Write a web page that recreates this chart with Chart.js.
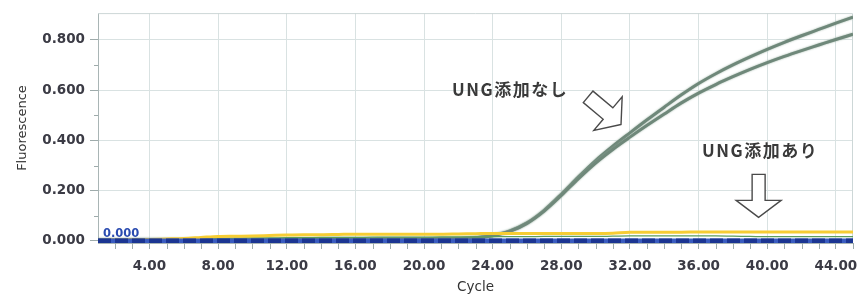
<!DOCTYPE html>
<html><head><meta charset="utf-8">
<script src="https://cdn.jsdelivr.net/npm/chart.js@4/dist/chart.umd.min.js"></script>
<style>html,body{margin:0;padding:0;background:#fff;}#wrap{width:868px;height:296px;}</style>
</head><body><div id="wrap"><canvas id="c" width="868" height="296"></canvas></div>
<script>
// ---- data ----
const cycles = [1,2,3,4,5,6,7,8,9,10,11,12,13,14,15,16,17,18,19,20,21,22,23,24,25,26,27,28,29,30,31,32,33,34,35,36,37,38,39,40,41,42,43,44,45];
const noUng1 = [0.004,0.004,0.004,0.005,0.005,0.005,0.005,0.006,0.006,0.006,0.006,0.006,0.007,0.007,0.007,0.007,0.007,0.008,0.008,0.008,0.009,0.010,0.013,0.022,0.040,0.072,0.122,0.186,0.255,0.320,0.377,0.430,0.482,0.532,0.581,0.626,0.665,0.700,0.732,0.762,0.790,0.816,0.841,0.866,0.890];
const noUng2 = [0.004,0.004,0.004,0.005,0.005,0.005,0.005,0.006,0.006,0.006,0.006,0.006,0.007,0.007,0.007,0.007,0.007,0.008,0.008,0.008,0.009,0.010,0.013,0.021,0.038,0.070,0.119,0.181,0.248,0.310,0.364,0.413,0.460,0.505,0.549,0.588,0.622,0.653,0.682,0.709,0.734,0.757,0.779,0.801,0.822];
const withUng = [0.003,0.004,0.005,0.006,0.008,0.010,0.014,0.018,0.019,0.020,0.022,0.024,0.025,0.025,0.026,0.027,0.027,0.027,0.027,0.027,0.027,0.028,0.029,0.030,0.030,0.030,0.030,0.030,0.030,0.030,0.031,0.035,0.035,0.035,0.035,0.036,0.036,0.036,0.036,0.036,0.036,0.036,0.036,0.036,0.036];
const withUngB = [0.004,0.004,0.005,0.006,0.007,0.008,0.009,0.010,0.011,0.012,0.012,0.013,0.013,0.014,0.014,0.014,0.015,0.015,0.015,0.015,0.016,0.016,0.016,0.017,0.017,0.017,0.018,0.018,0.018,0.018,0.019,0.020,0.020,0.020,0.020,0.020,0.020,0.019,0.018,0.017,0.017,0.017,0.017,0.017,0.017];
const baseline = [0,0,0,0,0,0,0,0,0,0,0,0,0,0,0,0,0,0,0,0,0,0,0,0,0,0,0,0,0,0,0,0,0,0,0,0,0,0,0,0,0,0,0,0,0];
const threshold = [0,0,0,0,0,0,0,0,0,0,0,0,0,0,0,0,0,0,0,0,0,0,0,0,0,0,0,0,0,0,0,0,0,0,0,0,0,0,0,0,0,0,0,0,0];
const xTickValues = [4,8,12,16,20,24,28,32,36,40,44];
const xTickLabels = ['4.00','8.00','12.00','16.00','20.00','24.00','28.00','32.00','36.00','40.00','44.00'];
const yTickValues = [0,0.2,0.4,0.6,0.8];
const yTickLabels = ['0.000','0.200','0.400','0.600','0.800'];
const xMinorTicks = [2,3,5,6,7,9,10,11,13,14,15,17,18,19,21,22,23,25,26,27,29,30,31,33,34,35,37,38,39,41,42,43,45];
const yMinorTicks = [0.1,0.3,0.5,0.7];
const thresholdLabel = '0.000';
const noteNoUng = 'UNG添加なし';
const noteWithUng = 'UNG添加あり';

const pts = arr => arr.map((v,i)=>({x:cycles[i], y:v}));
const gridColor = '#d9e2e2';
const tickFont = {family:'DejaVu Sans', size:13.5, weight:'bold'};

function arrow(ctx, tx, ty, angle, L, h, s, S){
  ctx.save();
  ctx.translate(tx, ty);
  ctx.rotate(angle);
  ctx.beginPath();
  ctx.moveTo(0,0);
  ctx.lineTo(-L, h);
  ctx.lineTo(-L, s);
  ctx.lineTo(-L-S, s);
  ctx.lineTo(-L-S, -s);
  ctx.lineTo(-L, -s);
  ctx.lineTo(-L, -h);
  ctx.closePath();
  ctx.fillStyle = '#ffffff';
  ctx.fill();
  ctx.lineWidth = 1.4;
  ctx.strokeStyle = '#4a4a4a';
  ctx.lineJoin = 'miter';
  ctx.stroke();
  ctx.restore();
}

const decor = {
  id:'decor',
  beforeDatasetsDraw(chart){
    const {ctx, chartArea:a} = chart;
    ctx.save();
    ctx.strokeStyle = '#cdd7d7';
    ctx.lineWidth = 1;
    ctx.beginPath();
    ctx.moveTo(a.left, a.top+0.5); ctx.lineTo(a.right-0.5, a.top+0.5); ctx.lineTo(a.right-0.5, a.bottom);
    ctx.stroke();
    const xs = chart.scales.x, ys = chart.scales.y;
    ctx.strokeStyle = '#9eabab';
    ctx.beginPath();
    xMinorTicks.forEach(v=>{ const px = Math.round(xs.getPixelForValue(v))+0.5; ctx.moveTo(px, a.bottom); ctx.lineTo(px, a.bottom+6); });
    yMinorTicks.forEach(v=>{ const py = Math.round(ys.getPixelForValue(v))+0.5; ctx.moveTo(a.left-4, py); ctx.lineTo(a.left, py); });
    ctx.stroke();
    ctx.restore();
  },
  beforeDatasetDraw(chart, args){
    if (args.meta.dataset && args.index >= 4) {
      const ctx = chart.ctx;
      ctx.save();
      ctx.shadowColor = 'rgba(140,165,150,0.9)';
      ctx.shadowBlur = 2;
    }
  },
  afterDatasetDraw(chart, args){
    if (args.meta.dataset && args.index >= 4) chart.ctx.restore();
  },
  afterDatasetsDraw(chart){
    const {ctx} = chart;
    const xs = chart.scales.x, ys = chart.scales.y;
    ctx.save();
    ctx.fillStyle = '#2a4bb0';
    ctx.font = 'bold 11.5px "DejaVu Sans"';
    ctx.textBaseline = 'alphabetic';
    ctx.textAlign = 'left';
    ctx.fillText(thresholdLabel, xs.getPixelForValue(1)+5, ys.getPixelForValue(0)-4);
    ctx.fillStyle = '#3a3a3a';
    ctx.font = 'bold 17px "Noto Sans CJK JP"';
    ctx.letterSpacing = '1.5px';
    ctx.textBaseline = 'middle';
    ctx.fillText(noteNoUng, xs.getPixelForValue(21.63), ys.getPixelForValue(0.601));
    ctx.fillText(noteWithUng, xs.getPixelForValue(36.2), ys.getPixelForValue(0.358));
    ctx.letterSpacing = '0px';
    arrow(ctx, xs.getPixelForValue(31.48), ys.getPixelForValue(0.463), 0.70, 17, 22, 7.5, 26);
    arrow(ctx, xs.getPixelForValue(39.5), ys.getPixelForValue(0.094), Math.PI/2, 17, 22.5, 6.5, 26);
    ctx.restore();
  }
};

new Chart(document.getElementById('c'), {
  type:'line',
  data:{
    datasets:[
      {data:pts(baseline), borderColor:'#3a5cc0', borderWidth:5, pointRadius:0, tension:0, order:2},
      {data:pts(threshold), borderColor:'#1b3592', borderWidth:5, borderDash:[13,4], pointRadius:0, tension:0, order:1},
      {data:pts(withUngB), borderColor:'#5c9e5c', borderWidth:1.2, pointRadius:0, tension:0.4, cubicInterpolationMode:'monotone', order:4},
      {data:pts(withUng), borderColor:'#f6cd34', borderWidth:3, pointRadius:0, tension:0.4, cubicInterpolationMode:'monotone', order:3},
      {data:pts(noUng2), borderColor:'#6f887a', borderWidth:3, pointRadius:0, tension:0.4, cubicInterpolationMode:'monotone', order:5},
      {data:pts(noUng1), borderColor:'#6f887a', borderWidth:3, pointRadius:0, tension:0.4, cubicInterpolationMode:'monotone', order:6}
    ]
  },
  options:{
    responsive:false, animation:false, devicePixelRatio:1,
    layout:{padding:{left:0,right:15,top:10,bottom:0}},
    plugins:{legend:{display:false}, tooltip:{enabled:false}},
    scales:{
      x:{
        type:'linear', min:1, max:45,
        afterBuildTicks:s=>{ s.ticks = xTickValues.map(v=>({value:v})); },
        afterFit:s=>{ s.height = 53; },
        ticks:{ callback:v=>xTickLabels[xTickValues.indexOf(v)], font:tickFont, color:'#3b3b45', padding:9, maxRotation:0, autoSkip:false },
        grid:{ color:gridColor, tickLength:6, tickColor:'#9eabab' },
        border:{ color:'#a9b5b5' },
        title:{ display:true, text:'Cycle', color:'#333', font:{family:'DejaVu Sans', size:13.5}, padding:{top:0,bottom:0} }
      },
      y:{
        type:'linear', min:-0.008, max:0.906,
        afterBuildTicks:s=>{ s.ticks = yTickValues.map(v=>({value:v})); },
        afterFit:s=>{ s.width = 98; },
        ticks:{ callback:v=>yTickLabels[yTickValues.indexOf(v)], font:tickFont, color:'#3b3b45', padding:5 },
        grid:{ color:gridColor, tickLength:8, tickColor:'#9eabab' },
        border:{ color:'#a9b5b5' },
        title:{ display:true, text:'Fluorescence', color:'#333', font:{family:'DejaVu Sans', size:13}, padding:{top:15,bottom:0} }
      }
    }
  },
  plugins:[decor]
});
</script>
</body></html>
